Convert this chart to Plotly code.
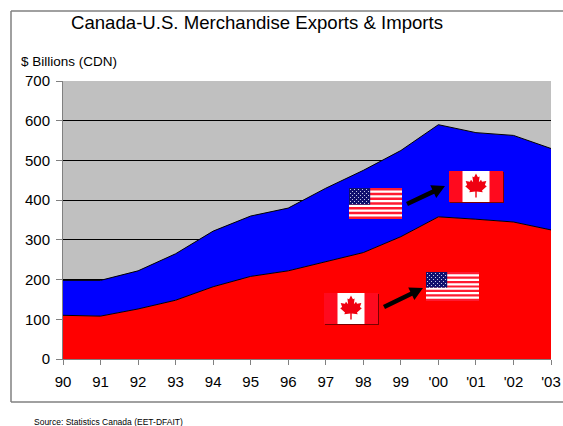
import math
import plotly.graph_objects as go

W, H = 563, 426
PL, PR, PT, PB = 63, 551, 81, 359

years = ["90", "91", "92", "93", "94", "95", "96", "97", "98", "99", "'00", "'01", "'02", "'03"]
exports = [110, 108, 126, 148, 182, 208, 222, 245, 268, 308, 358, 352, 345, 325]
imports = [88, 90, 96, 117, 140, 152, 158, 185, 207, 217, 232, 218, 218, 205]
y_ticks = [0, 100, 200, 300, 400, 500, 600, 700]
title_text = "Canada-U.S. Merchandise Exports &amp; Imports"
unit_text = "$ Billions (CDN)"
source_text = "Source: Statistics Canada (EET-DFAIT)"
FONT = "Liberation Sans, Arial, sans-serif"

def fx(x):
    return (x - PL) / (PR - PL)

def fy(y):
    return (PB - y) / (PB - PT)

shapes = []

def rect(x0, y0, x1, y1, fill, line=None, layer="above"):
    shapes.append(dict(type="rect", xref="paper", yref="paper", x0=fx(x0), x1=fx(x1), y0=fy(y0), y1=fy(y1),
                       fillcolor=fill, line=dict(width=1 if line else 0, color=line or fill), layer=layer))

def poly(points, fill):
    d = "M " + " L ".join(f"{fx(a):.5f} {fy(b):.5f}" for a, b in points) + " Z"
    shapes.append(dict(type="path", xref="paper", yref="paper", path=d, fillcolor=fill, line=dict(width=0), layer="above"))

leaf = [(0, -1), (.16, -.68), (.3, -.76), (.24, -.28), (.42, -.48), (.5, -.32), (.86, -.38), (.74, -.04),
        (.9, .06), (.5, .42), (.56, .56), (.06, .5), (.06, 1), (-.06, 1), (-.06, .5), (-.56, .56), (-.5, .42),
        (-.9, .06), (-.74, -.04), (-.86, -.38), (-.5, -.32), (-.42, -.48), (-.24, -.28), (-.3, -.76), (-.16, -.68)]

def canada(x0, y0, x1, y1):
    rect(x0 + 1, y0 + 1, x1 + 1, y1 + 1, "#7a0000")
    rect(x0, y0, x1, y1, "#ff0a1e")
    w = x1 - x0
    rect(x0 + w * .25, y0, x1 - w * .25, y1, "#ffffff")
    cx, cy = (x0 + x1) / 2, (y0 + y1) / 2 - 1
    poly([(cx + a * 12, cy + b * 12) for a, b in leaf], "#f00010")

def usa(x0, y0, x1, y1):
    rect(x0, y0, x1, y1, "#ffffff")
    h = (y1 - y0) / 13
    for i in range(0, 13, 2):
        rect(x0, y0 + i * h, x1, y0 + (i + 1) * h, "#ff1a30")
    cw, ch = (x1 - x0) * .4, h * 7
    rect(x0, y0, x0 + cw, y0 + ch, "#10106e")
    for r in range(8):
        for c in range(10):
            if (r + c) % 2 == 0:
                sx = x0 + 1 + c * 2
                sy = y0 + 1 + r * 2
                rect(sx, sy, sx + 1, sy + 1, "#c4c8e8")

def arrow(x0, y0, x1, y1):
    L = math.hypot(x1 - x0, y1 - y0)
    ux, uy = (x1 - x0) / L, (y1 - y0) / L
    nx, ny = -uy, ux
    hb = 13
    t, hw = 2.3, 7
    bx, by = x1 - ux * hb, y1 - uy * hb
    poly([(x0 + nx * t, y0 + ny * t), (bx + nx * t, by + ny * t), (bx + nx * hw, by + ny * hw), (x1, y1),
          (bx - nx * hw, by - ny * hw), (bx - nx * t, by - ny * t), (x0 - nx * t, y0 - ny * t)], "#000000")

# outer frame: left, top and bottom edges only, open on the right
for a, b, c, d in [(11, 11, 11, 402), (11, 11, 563, 11), (11, 402, 563, 402)]:
    shapes.append(dict(type="line", xref="paper", yref="paper", x0=fx(a), x1=fx(c), y0=fy(b), y1=fy(d),
                       line=dict(color="#808080", width=1.5), layer="below"))

usa(349, 188, 402, 219)
canada(449, 171, 503, 202)
canada(324, 293, 378, 324)
usa(426, 272, 479, 301)
arrow(407, 204, 445, 186)
arrow(384, 307, 423, 288)

fig = go.Figure()
fig.add_trace(go.Scatter(x=years, y=exports, stackgroup="one", mode="lines", line=dict(color="#000000", width=1),
                         fillcolor="#ff0000", name="Exports", hoverinfo="x+y"))
fig.add_trace(go.Scatter(x=years, y=imports, stackgroup="one", mode="lines", line=dict(color="#000000", width=1),
                         fillcolor="#0000ff", name="Imports", hoverinfo="x+y"))

annotations = [
    dict(text=title_text, x=fx(256.5), y=fy(23), font=dict(size=18.6, color="#000000", family=FONT)),
    dict(text=unit_text, x=fx(68.5), y=fy(62), font=dict(size=13.5, color="#000000", family=FONT)),
    dict(text=source_text, x=fx(108.5), y=fy(422), font=dict(size=8.5, color="#000000", family=FONT)),
]
for a in annotations:
    a.update(xref="paper", yref="paper", xanchor="center", yanchor="middle", showarrow=False)

fig.update_layout(
    width=W, height=H, autosize=False,
    margin=dict(l=PL, r=W - PR, t=PT, b=H - PB, pad=0, autoexpand=False),
    paper_bgcolor="#ffffff", plot_bgcolor="#c0c0c0",
    showlegend=False, shapes=shapes, annotations=annotations,
    font=dict(family=FONT, color="#000000"),
    xaxis=dict(type="category", range=[0, 13], automargin=False, showgrid=False, ticks="outside", ticklen=5,
               tickcolor="#808080", tickwidth=1, showline=True, linecolor="#808080", linewidth=1, zeroline=False,
               tickfont=dict(size=15, family=FONT), tickangle=0, tickmode="array", tickvals=years, ticktext=years,
               ticklabelstandoff=4),
    yaxis=dict(range=[0, 700], automargin=False, tickvals=y_ticks, showgrid=True, gridcolor="#000000", gridwidth=1,
               ticks="outside", ticklen=6, tickcolor="#808080", showline=True, linecolor="#808080", linewidth=1,
               zeroline=False, tickfont=dict(size=15, family=FONT), ticklabelstandoff=3),
)

fig.write_html("out.html", config=dict(displayModeBar=False),
               post_script="document.body.style.margin='0';document.body.style.overflow='hidden';")
